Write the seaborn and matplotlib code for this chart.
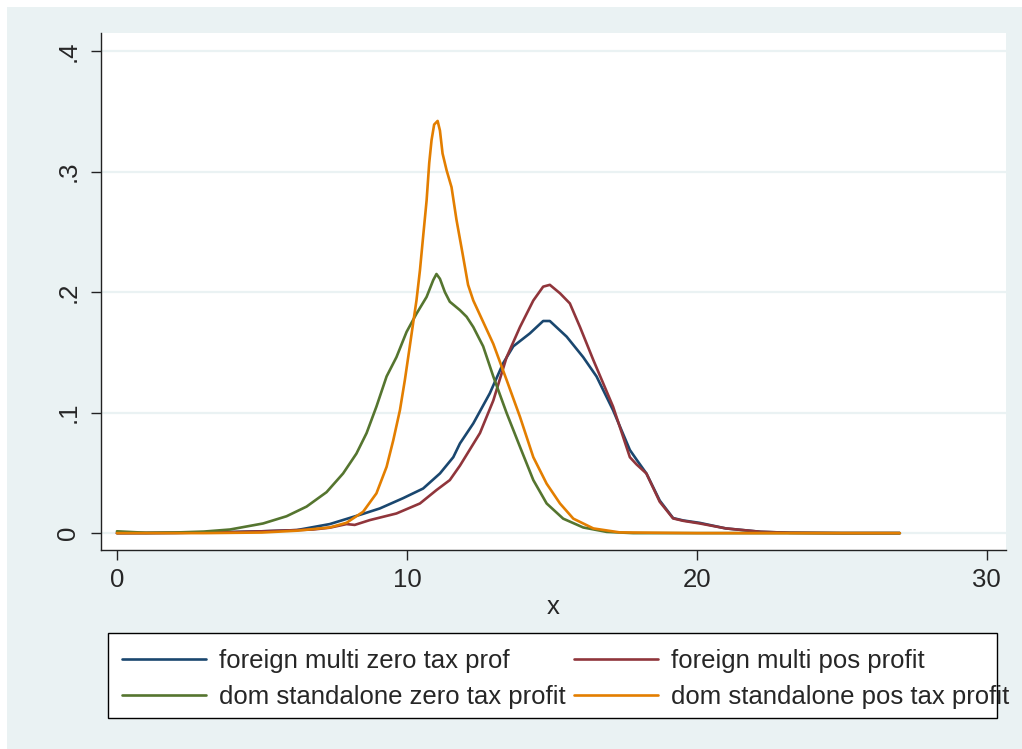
import numpy as np
import pandas as pd
import seaborn as sns
import matplotlib.pyplot as plt

# density curves
x_fm0 = [0, 1, 2, 3, 4, 5, 6.2, 7.34, 8.49, 9.07, 9.87, 10.56, 11.14, 11.6, 11.83, 12.29, 12.86, 13.32,
         13.67, 14.24, 14.7, 14.93, 15.51, 16.08, 16.54, 17.11, 17.69, 17.92, 18.26, 18.72, 19.18, 19.53,
         20.1, 21.0, 22.2, 23.2, 25, 27]
y_fm0 = [0, 0, 0.0002, 0.0005, 0.001, 0.0015, 0.0025, 0.0075, 0.016, 0.0205, 0.029, 0.037, 0.0495, 0.063,
         0.0744, 0.091, 0.116, 0.141, 0.155, 0.1657, 0.176, 0.176, 0.163, 0.146, 0.130, 0.102, 0.069, 0.061,
         0.0495, 0.027, 0.0125, 0.0105, 0.0085, 0.0039, 0.0011, 0.0003, 0, 0]

x_fmp = [0, 2, 4, 5, 6.2, 6.77, 7.34, 7.92, 8.2, 8.72, 9.64, 10.45, 11.02, 11.48, 11.83, 12.52, 12.98,
         13.44, 13.9, 14.36, 14.7, 14.93, 15.28, 15.62, 15.97, 16.43, 17.11, 17.69, 17.92, 18.26, 18.72,
         19.18, 19.53, 20.1, 21.0, 22.2, 23.2, 25, 27]
y_fmp = [0, 0.0002, 0.0008, 0.0015, 0.0025, 0.003, 0.0045, 0.0075, 0.0068, 0.0108, 0.0163, 0.0246, 0.0357,
         0.044, 0.056, 0.083, 0.110, 0.146, 0.171, 0.193, 0.2045, 0.206, 0.199, 0.1906, 0.171, 0.1436, 0.105,
         0.063, 0.057, 0.0495, 0.026, 0.0122, 0.0102, 0.008, 0.0039, 0.0011, 0.0003, 0, 0]

x_ds0 = [0, 1, 2, 3, 3.9, 5.04, 5.85, 6.54, 7.23, 7.8, 8.26, 8.61, 8.95, 9.3, 9.64, 9.99, 10.33, 10.68,
         10.91, 11.02, 11.14, 11.31, 11.48, 11.83, 12.06, 12.29, 12.63, 12.98, 13.44, 13.9, 14.36, 14.82,
         15.39, 16.08, 16.89, 17.8, 20, 27]
y_ds0 = [0.0015, 0.0003, 0.0005, 0.0013, 0.003, 0.008, 0.014, 0.022, 0.034, 0.0495, 0.066, 0.083, 0.105,
         0.130, 0.146, 0.167, 0.182, 0.196, 0.210, 0.215, 0.211, 0.200, 0.192, 0.185, 0.1795, 0.171, 0.155,
         0.130, 0.0996, 0.0716, 0.044, 0.0246, 0.012, 0.0047, 0.001, 0, 0, 0]

x_dsp = [0, 3, 5, 6.2, 7.34, 7.92, 8.49, 8.95, 9.3, 9.53, 9.76, 9.93, 10.1, 10.22, 10.33, 10.45, 10.56,
         10.68, 10.77, 10.85, 10.94, 11.06, 11.14, 11.23, 11.37, 11.54, 11.71, 11.92, 12.11, 12.29, 12.52,
         12.98, 13.44, 13.9, 14.36, 14.82, 15.28, 15.74, 16.43, 17.34, 20, 27]
y_dsp = [0, 0, 0.0005, 0.002, 0.0047, 0.0086, 0.0177, 0.033, 0.055, 0.077, 0.102, 0.127, 0.155, 0.175,
         0.193, 0.218, 0.246, 0.276, 0.307, 0.326, 0.339, 0.342, 0.334, 0.315, 0.301, 0.287, 0.260, 0.232,
         0.206, 0.193, 0.181, 0.157, 0.127, 0.0965, 0.063, 0.041, 0.0246, 0.012, 0.0039, 0.0006, 0, 0]

labels = ["foreign multi zero tax prof", "foreign multi pos profit",
          "dom standalone zero tax profit", "dom standalone pos tax profit"]
colors = ["#1a476f", "#90353b", "#55752f", "#e37e00"]

df = pd.concat([
    pd.DataFrame({"x": x_fm0, "y": y_fm0, "group": labels[0]}),
    pd.DataFrame({"x": x_fmp, "y": y_fmp, "group": labels[1]}),
    pd.DataFrame({"x": x_ds0, "y": y_ds0, "group": labels[2]}),
    pd.DataFrame({"x": x_dsp, "y": y_dsp, "group": labels[3]}),
])

sns.set_style("white")
plt.rcParams["font.family"] = ["Liberation Sans", "DejaVu Sans"]

fig = plt.figure(figsize=(10.22, 7.49), dpi=100)
fig.patch.set_facecolor("white")
# stata style outer panel + legend box
fig.patches.append(plt.Rectangle((7 / 1022, 0), 1, 1 - 7 / 749, transform=fig.transFigure,
                                 facecolor="#eaf2f3", edgecolor="none", zorder=-10))
fig.patches.append(plt.Rectangle((108 / 1022, 31 / 749), 889 / 1022, 85 / 749, transform=fig.transFigure,
                                 facecolor="white", edgecolor="black", linewidth=1.0, zorder=-5))
ax = fig.add_axes([0.0988, 0.2657, 0.8855, 0.6903])
ax.set_facecolor("white")

sns.lineplot(data=df, x="x", y="y", hue="group", hue_order=labels, palette=colors,
             estimator=None, sort=False, linewidth=1.9, ax=ax)

ax.set_xlim(-0.55, 30.66)
ax.set_ylim(-0.014, 0.415)
ax.set_xticks([0, 10, 20, 30])
ax.set_yticks([0, 0.1, 0.2, 0.3, 0.4])
ax.set_yticklabels(["0", ".1", ".2", ".3", ".4"], rotation=90, va="center")
ax.grid(axis="y", color="#eaf2f3", linewidth=1.6)
ax.grid(axis="x", visible=False)
ax.set_axisbelow(True)
for s in ["top", "right"]:
    ax.spines[s].set_visible(False)
for s in ["left", "bottom"]:
    ax.spines[s].set_color("#222222")
    ax.spines[s].set_linewidth(1.0)
ax.tick_params(axis="both", direction="out", length=7, width=1, color="#222222",
               labelsize=18.5, bottom=True, left=True)
ax.tick_params(axis="x", pad=6)
ax.tick_params(axis="y", pad=8)
ax.set_xlabel("x", fontsize=18.5, labelpad=2)
ax.set_ylabel("")

# legend: rows fm0/fmp, then ds0/dsp
handles, labs = ax.get_legend_handles_labels()
order = [0, 2, 1, 3]
ax.legend([handles[i] for i in order], [labs[i] for i in order], ncol=2, loc="upper left",
          bbox_to_anchor=(108 / 1022, 1 - 635 / 749), bbox_transform=fig.transFigure,
          frameon=False, fontsize=18.5, handlelength=3.3, handletextpad=0.5, borderaxespad=0,
          borderpad=0.53, labelspacing=0.48, columnspacing=0.3)

fig.savefig("out.png", dpi=100, facecolor=fig.get_facecolor())
